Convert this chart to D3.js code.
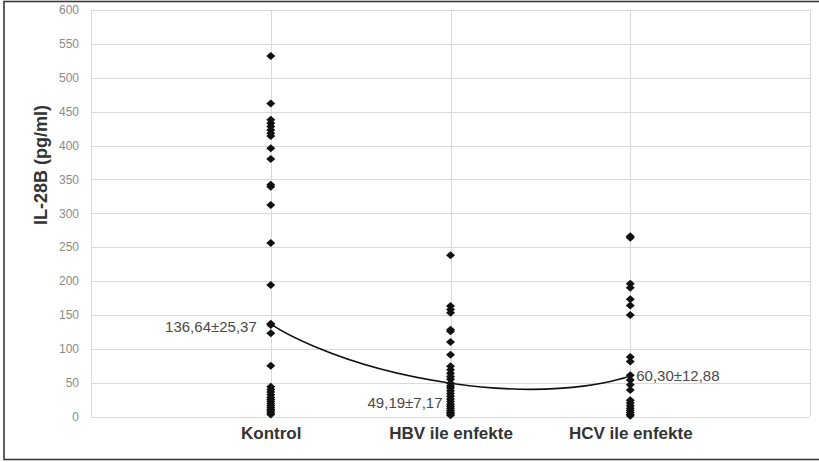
<!DOCTYPE html>
<html>
<head>
<meta charset="utf-8">
<script src="https://cdn.jsdelivr.net/npm/d3@7"></script>
<style>
  html, body { margin: 0; padding: 0; background: #fff; }
  svg { display: block; font-family: "Liberation Sans", Arial, sans-serif; }
</style>
</head>
<body>
<div id="chart"></div>
<script>
// groups on the x axis (numeric slots 1..3 on a 0..4 axis)
const groups = ['Kontrol', 'HBV ile enfekte', 'HCV ile enfekte'];
const yTicks = [0, 50, 100, 150, 200, 250, 300, 350, 400, 450, 500, 550, 600];

const kontrolValues = [532, 462, 438, 433, 428, 423, 418, 414, 396, 380, 342, 339, 312, 256, 194,
  137, 135, 123, 75, 44, 40, 36, 32, 28, 25, 22, 19, 16, 13, 10, 8, 5, 3];
const hbvValues = [238, 163, 158, 153, 128, 126, 110, 91, 74, 69, 64, 59, 55, 49,
  45, 42, 38, 34, 30, 26, 22, 18, 15, 12, 9, 6, 4, 2];
const hcvValues = [266, 264, 196, 190, 173, 164, 150, 88, 81, 61, 54, 47, 39,
  24, 20, 16, 12, 9, 6, 3, 1];

// group means and labels
const means = [136.64, 49.19, 60.30];
const meanLabels = ['136,64±25,37', '49,19±7,17', '60,30±12,88'];

(function(){
  const W = 819, H = 462;
  const svg = d3.select('#chart').append('svg').attr('width', W).attr('height', H);

  const x = d3.scaleLinear().domain([0, 4]).range([91, 810]);
  const y = d3.scaleLinear().domain([0, 600]).range([416.5, 10]);

  // outer frame
  svg.append('rect').attr('x', 4).attr('y', 1.5).attr('width', 840).attr('height', 458)
    .attr('fill', 'none').attr('stroke', '#3a3a3a').attr('stroke-width', 1.6);

  const grid = svg.append('g').attr('stroke', '#d9d9d9').attr('stroke-width', 1);
  // horizontal gridlines
  grid.selectAll('line.h').data(yTicks).enter().append('line')
    .attr('x1', x(0)).attr('x2', x(4))
    .attr('y1', d => Math.round(y(d)) + 0.5).attr('y2', d => Math.round(y(d)) + 0.5);
  // vertical gridlines
  grid.selectAll('line.v').data([0, 1, 2, 3, 4]).enter().append('line')
    .attr('x1', d => Math.round(x(d)) + 0.5).attr('x2', d => Math.round(x(d)) + 0.5)
    .attr('y1', y(600)).attr('y2', y(0));

  // y axis labels
  const yAxis = d3.axisLeft(y).tickValues(yTicks).tickSize(0).tickPadding(0);
  const ya = svg.append('g').attr('transform', 'translate(79,0)').call(yAxis);
  ya.select('.domain').remove();
  ya.selectAll('text').attr('fill', '#8a8a8a').attr('font-size', 12)
    .attr('font-family', '"Liberation Sans", Arial, sans-serif');

  // x axis labels
  const xAxis = d3.axisBottom(x).tickValues([1, 2, 3]).tickSize(0).tickPadding(0)
    .tickFormat(d => groups[d - 1]);
  const xa = svg.append('g').attr('transform', 'translate(0,427)').call(xAxis);
  xa.select('.domain').remove();
  xa.selectAll('text').attr('fill', '#333').attr('font-size', 17).attr('font-weight', 'bold')
    .attr('font-family', '"Liberation Sans", Arial, sans-serif');

  // y title
  svg.append('text').attr('transform', 'translate(47,165) rotate(-90)')
    .attr('text-anchor', 'middle').attr('font-size', 18).attr('font-weight', 'bold')
    .attr('fill', '#333').text('IL-28B (pg/ml)');

  // mean curve
  const meanPts = means.map((m, i) => [x(i + 1), y(m)]);
  svg.append('path').datum(meanPts)
    .attr('d', d3.line().curve(d3.curveCardinal.tension(-1)))
    .attr('fill', 'none').attr('stroke', '#111').attr('stroke-width', 1.6);

  // scatter points
  const diamond = 'M0,-4L4.5,0L0,4L-4.5,0Z';
  const series = [kontrolValues, hbvValues, hcvValues];
  series.forEach((vals, i) => {
    svg.append('g').selectAll('path').data(vals).enter().append('path')
      .attr('d', diamond)
      .attr('transform', d => `translate(${x(i + 1)},${y(d)})`)
      .attr('fill', '#111');
  });

  // mean labels
  const lab = svg.append('g').attr('font-size', 15).attr('fill', '#4a4a4a');
  lab.append('text').attr('x', x(1) - 14).attr('y', y(means[0]) + 8)
    .attr('text-anchor', 'end').text(meanLabels[0]);
  lab.append('text').attr('x', x(2) - 8).attr('y', y(means[1]) + 25)
    .attr('text-anchor', 'end').text(meanLabels[1]);
  lab.append('text').attr('x', x(3) + 6).attr('y', y(means[2]) + 5)
    .attr('text-anchor', 'start').text(meanLabels[2]);
})();
</script>
</body>
</html>
